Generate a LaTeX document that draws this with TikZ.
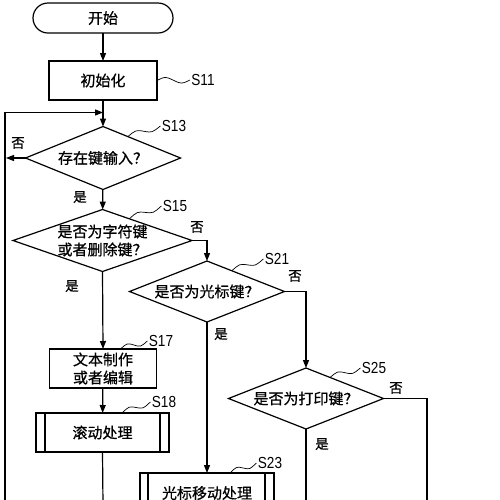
\documentclass[tikz,border=0pt]{standalone}
\usepackage{fontspec}
\setmainfont{Noto Sans CJK SC}[FakeBold=0.7]
\newfontfamily\labfont[FakeStretch=0.85]{Liberation Sans}
\usetikzlibrary{shapes.geometric,shapes.misc,arrows.meta,calc}
\begin{document}
\begin{tikzpicture}[x=1pt,y=1pt, line width=1.2pt,
 every node/.style={font=\fontsize{15}{18}\selectfont},
 proc/.style={draw, rectangle, inner sep=0pt, outer sep=0pt, align=center},
 decis/.style={draw, diamond, inner sep=0pt, outer sep=0pt, align=center},
 term/.style={draw, rounded rectangle, inner sep=0pt, outer sep=0pt},
 arr/.style={-{Triangle[length=8pt,width=6pt]}},
 steplab/.style={font=\labfont\fontsize{16}{16}\selectfont, inner sep=0pt},
 yn/.style={font=\fontsize{13.5}{14}\selectfont, inner sep=0pt},
 squig/.style={line width=0.7pt}
]
\useasboundingbox (0,0) rectangle (500,-499);
\clip (0,0) rectangle (500,-499);
\newcommand{\squiggle}[2]{\draw[squig] (#1) .. controls ($(#1)!.25!(#2)+(0,4)$) .. ($(#1)!.5!(#2)$) .. controls ($(#1)!.75!(#2)+(0,-4)$) .. (#2);}

% nodes
\node[term, minimum width=140pt, minimum height=30pt] (start) at (103,-18) {开始};
\node[proc, minimum width=108pt, minimum height=39pt] (init) at (103,-80.5) {初始化};
\node[decis, aspect=2.46, minimum width=155pt, minimum height=63pt,
  label={[inner sep=0pt]center:存在键输入？}] (s13) at (103,-158) {};
\node[decis, aspect=2.89, minimum width=179pt, minimum height=62pt,
  label={[inner sep=0pt, align=center]center:是否为字符键\\或者删除键？}] (s15) at (102.5,-240.5) {};
\node[decis, aspect=2.54, minimum width=155pt, minimum height=61pt,
  label={[inner sep=0pt]center:是否为光标键？}] (s21) at (207,-291.5) {};
\node[decis, aspect=2.54, minimum width=155pt, minimum height=61pt,
  label={[inner sep=0pt]center:是否为打印键？}] (s25) at (306,-398.5) {};
\node[proc, minimum width=107pt, minimum height=39pt] (s17) at (103,-368.5) {文本制作\\或者编辑};
\node[proc, minimum width=133pt, minimum height=39pt] (s18) at (102.5,-432.5) {滚动处理};
\node[proc, minimum width=134pt, minimum height=40pt] (s23) at (207,-493) {光标移动处理};

% predefined-process inner lines
\draw ($(s18.north west)+(9,0)$) -- ($(s18.south west)+(9,0)$);
\draw ($(s18.north east)+(-9,0)$) -- ($(s18.south east)+(-9,0)$);
\draw ($(s23.north west)+(8,0)$) -- ($(s23.south west)+(8,0)$);
\draw ($(s23.north east)+(-9,0)$) -- ($(s23.south east)+(-9,0)$);

% step labels
\node[steplab] (l11) at (203,-80) {S11};
\node[steplab] (l13) at (174,-126) {S13};
\node[steplab] (l15) at (175,-206) {S15};
\node[steplab] (l21) at (277,-259) {S21};
\node[steplab] (l25) at (374,-368) {S25};
\node[steplab] (l17) at (161,-341) {S17};
\node[steplab] (l18) at (164,-402) {S18};
\node[steplab] (l23) at (270,-463) {S23};

\coordinate (c13) at ($(s13.north)!0.32!(s13.east)$);
\coordinate (c15) at ($(s15.north)!0.3!(s15.east)$);
\coordinate (c21) at ($(s21.north)!0.32!(s21.east)$);
\coordinate (c25) at ($(s25.north)!0.31!(s25.east)$);
\coordinate (c17) at ($(s17.north east)+(-36,0)$);
\coordinate (c18) at ($(s18.north east)+(-47,0)$);
\coordinate (c23) at ($(s23.north east)+(-44,0)$);
\squiggle{init.east}{$(l11.west)+(-1,0)$}
\squiggle{c13}{$(l13.west)+(-1,0)$}
\squiggle{c15}{$(l15.west)+(-1,0)$}
\squiggle{c21}{$(l21.west)+(-1,0)$}
\squiggle{c25}{$(l25.west)+(-1,0)$}
\squiggle{c17}{$(l17.west)+(-1,0)$}
\squiggle{c18}{$(l18.west)+(-1,0)$}
\squiggle{c23}{$(l23.west)+(-1,0)$}

% yes / no labels
\node[yn] (n13) at (18,-143) {否};
\node[yn] (y13) at (80,-197) {是};
\node[yn] (n15) at (197,-227) {否};
\node[yn] (y15) at (72,-286) {是};
\node[yn] (n21) at (295,-276) {否};
\node[yn] (y21) at (221,-334) {是};
\node[yn] (n25) at (396,-388) {否};
\node[yn] (y25) at (322,-444) {是};

% connectors
\coordinate (loopbot) at (5,-505);
\coordinate (loopjoin) at (103,-112.5);
\coordinate (noend) at (6,-158);
\coordinate (b18) at (103,-505);
\coordinate (b25) at (306,-505);
\coordinate (b25n) at (427,-505);

\draw[arr] (start) -- (init);
\draw[arr] (init) -- (s13);
\draw[arr] (loopbot) |- (loopjoin);
\draw[arr] (s13.west) -- (noend);
\draw[arr] (s13) -- (s15);
\draw[arr] (s15.east) -| (s21.north);
\draw[arr] (s15.south) -- (s17.north);
\draw[arr] (s17) -- (s18);
\draw (s18.south) -- (b18);
\draw[arr] (s21.east) -| (s25.north);
\draw[arr] (s21.south) -- (s23.north);
\draw (s25.east) -| (b25n);
\draw (s25.south) -- (b25);
\end{tikzpicture}
\end{document}
